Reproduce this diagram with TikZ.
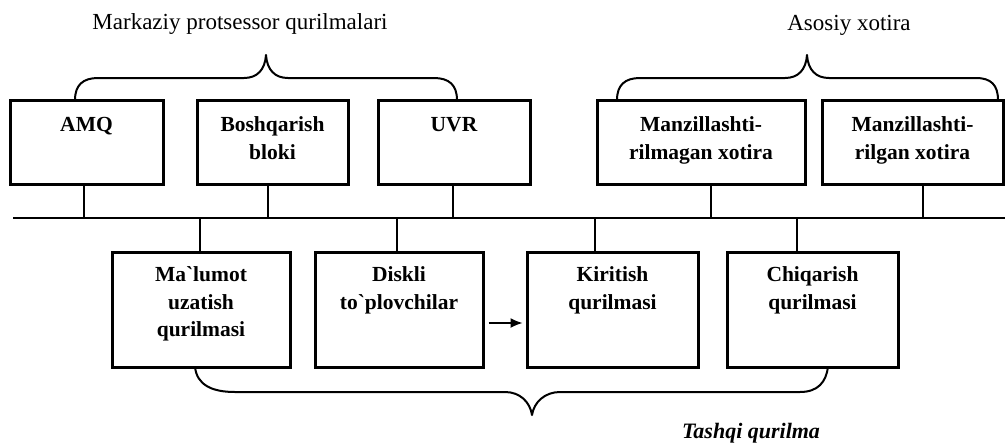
\documentclass[tikz,border=0pt]{standalone}
\usepackage{fontspec}
\setmainfont{Liberation Serif}
\usetikzlibrary{arrows.meta}
\begin{document}
\begin{tikzpicture}[x=1pt,y=-1pt,
  topbox/.style={draw, line width=3pt, inner sep=0pt, minimum height=84pt},
  lowbox/.style={draw, line width=3pt, inner sep=0pt, minimum height=115pt},
  btext/.style={font=\fontsize{21.5}{27.5}\selectfont\bfseries, align=center, inner sep=0pt, anchor=north},
  title/.style={font=\fontsize{23}{27}\selectfont, inner sep=0pt, anchor=base},
  stub/.style={line width=2.4pt},
  bus/.style={line width=2pt},
  brace/.style={line width=2pt, line cap=round, line join=round},
  arr/.style={line width=1.3pt, -{Latex[length=12pt,width=10pt]}, shorten <=4pt, shorten >=3pt}
]
\useasboundingbox (0,0) rectangle (1007,445);

% upper row: processor units and main memory
\node[topbox, minimum width=153pt] (amq)  at (86.5,142)  {};
\node[topbox, minimum width=151pt] (bosh) at (272.5,142) {};
\node[topbox, minimum width=152pt] (uvr)  at (454,142)   {};
\node[topbox, minimum width=208pt] (mz1)  at (701,142)   {};
\node[topbox, minimum width=181pt] (mz2)  at (912.5,142) {};

\node[btext] (amqT)  at ([yshift=-13.75pt]amq.north)  {\strut AMQ};
\node[btext] (boshT) at ([yshift=-13.75pt]bosh.north) {\strut Boshqarish\\bloki};
\node[btext] (uvrT)  at ([yshift=-13.75pt]uvr.north)  {\strut UVR};
\node[btext] (mz1T)  at ([yshift=-13.75pt]mz1.north)  {\strut Manzillashti-\\rilmagan xotira};
\node[btext] (mz2T)  at ([yshift=-13.75pt]mz2.north)  {\strut Manzillashti-\\rilgan xotira};

% lower row: external devices
\node[lowbox, minimum width=178pt] (mal)  at (201,309.5)   {};
\node[lowbox, minimum width=168pt] (disk) at (399,309.5)   {};
\node[lowbox, minimum width=171pt] (kir)  at (612.5,309.5) {};
\node[lowbox, minimum width=171pt] (chiq) at (812.5,309.5) {};

\node[btext] (malT)  at ([yshift=-11.75pt]mal.north)  {\strut Ma\textasciigrave lumot\\uzatish\\qurilmasi};
\node[btext] (diskT) at ([yshift=-11.75pt]disk.north) {\strut Diskli\\to\textasciigrave plovchilar};
\node[btext] (kirT)  at ([yshift=-11.75pt]kir.north)  {\strut Kiritish\\qurilmasi};
\node[btext] (chiqT) at ([yshift=-11.75pt]chiq.north) {\strut Chiqarish\\qurilmasi};

% common bus
\coordinate (busL) at (13,218);
\coordinate (busR) at (1005,218);
\draw[bus] (busL) -- (busR);

% taps from the upper row
\draw[stub] ([xshift=-2.5pt]amq.south)  -- ([xshift=-2.5pt]amq.south |- busL);
\draw[stub] ([xshift=-4.5pt]bosh.south) -- ([xshift=-4.5pt]bosh.south |- busL);
\draw[stub] ([xshift=-1pt]uvr.south)    -- ([xshift=-1pt]uvr.south |- busL);
\draw[stub] ([xshift=10pt]mz1.south)    -- ([xshift=10pt]mz1.south |- busL);
\draw[stub] ([xshift=10.5pt]mz2.south)  -- ([xshift=10.5pt]mz2.south |- busL);

% taps to the lower row
\draw[stub] ([xshift=-1pt]mal.north |- busL)     -- ([xshift=-1pt]mal.north);
\draw[stub] ([xshift=-2pt]disk.north |- busL)    -- ([xshift=-2pt]disk.north);
\draw[stub] ([xshift=-17.5pt]kir.north |- busL)  -- ([xshift=-17.5pt]kir.north);
\draw[stub] ([xshift=-15.5pt]chiq.north |- busL) -- ([xshift=-15.5pt]chiq.north);

% disk drives feed the input unit
\draw[arr] ([yshift=-13.5pt]disk.east) -- ([yshift=-13.5pt]kir.west);

% group braces
\draw[brace] (75,100) .. controls (75,85) and (83,78) .. (98,78) -- (244,78)
  .. controls (257,78) and (265,70) .. (266,55)
  .. controls (267,70) and (275,78) .. (288,78) -- (434,78)
  .. controls (449,78) and (457,85) .. (457,100);
\draw[brace] (617,100) .. controls (617,85) and (625,78) .. (640,78) -- (785,78)
  .. controls (798,78) and (806,70) .. (807,55)
  .. controls (808,70) and (816,78) .. (829,78) -- (976,78)
  .. controls (991,78) and (998,85) .. (998,100);
\draw[brace] (195,367) .. controls (197,385) and (212,392) .. (235,392) -- (505,392)
  .. controls (520,392) and (530,402) .. (532,415)
  .. controls (534,402) and (545,392) .. (560,392) -- (800,392)
  .. controls (818,392) and (826,382) .. (828,367);

% group captions
\node[title] (cpuT) at (240,29) {Markaziy protsessor qurilmalari};
\node[title] (memT) at (849,30) {Asosiy xotira};
\node[title, font=\fontsize{22}{26}\selectfont\bfseries\itshape] (extT) at (751,438) {Tashqi qurilma};
\end{tikzpicture}
\end{document}
